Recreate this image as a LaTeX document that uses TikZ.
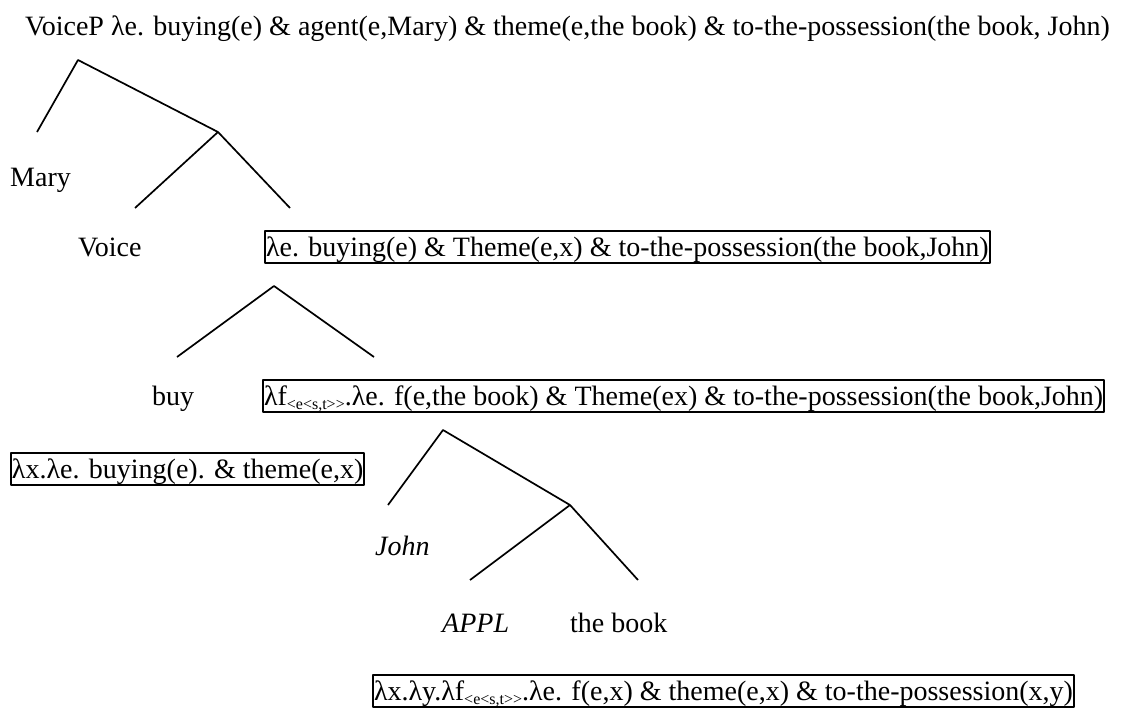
\documentclass[tikz,border=0pt]{standalone}
\usepackage{fontspec}
\setmainfont{Liberation Serif}

% small lowered type subscript
\newcommand\typesub[1]{\raisebox{-4pt}{\fontsize{16}{16}\selectfont #1}}

\begin{document}
\begin{tikzpicture}[
    x=1pt, y=-1pt,
    line join=round,
    % Tree branches and boxed meanings
    branch/.style={line width=1.7pt},
    word/.style={font=\fontsize{28}{32}\selectfont, inner sep=0pt, anchor=base west},
    meaning/.style={draw, line width=2pt, font=\fontsize{28}{32}\selectfont,
        inner xsep=1pt, inner ysep=0pt, text height=25pt, text depth=7pt, anchor=base west}
]

% ---------------------------------------------------------
% 1. FIXED CANVAS (1135 x 709)
% ---------------------------------------------------------
\path [use as bounding box] (0,0) rectangle (1135,709);

% ---------------------------------------------------------
% 2. BRANCH POINTS
% ---------------------------------------------------------
% VoiceP
\coordinate (VP)  at (78, 60);
\coordinate (VPl) at (37, 132);
\coordinate (VPr) at (218, 132);
\coordinate (Vl)  at (135, 208);
\coordinate (Vr)  at (290, 208);

% VP under Voice
\coordinate (BP)  at (274, 286);
\coordinate (BPl) at (177, 357);
\coordinate (BPr) at (374, 357);

% Applicative phrase
\coordinate (AP)  at (443, 430);
\coordinate (APl) at (388, 505);
\coordinate (APr) at (570, 505);
\coordinate (Al)  at (470, 580);
\coordinate (Ar)  at (638, 580);

% Branches
\draw[branch] (VPl) -- (VP) -- (VPr);
\draw[branch] (Vl) -- (VPr) -- (Vr);
\draw[branch] (BPl) -- (BP) -- (BPr);
\draw[branch] (APl) -- (AP) -- (APr);
\draw[branch] (Al) -- (APr) -- (Ar);

% ---------------------------------------------------------
% 3. LABELS
% ---------------------------------------------------------
\node[word] (voicep) at (25, 36)
    {VoiceP λe. buying(e) \& agent(e,Mary) \& theme(e,the book) \& to-the-possession(the book, John)};
\node[word] (mary)  at (10, 186)  {Mary};
\node[word] (voice) at (78, 256)  {Voice};
\node[word] (buy)   at (152, 405) {buy};
\node[word] (john)  at (375, 555) {\itshape John};
\node[word] (appl)  at (442, 632) {\itshape APPL};
\node[word] (book)  at (570, 632) {the book};

% Boxed meanings
\node[meaning] (m1) at (264, 256)
    {λe. buying(e) \& Theme(e,x) \& to-the-possession(the book,John)};
\node[meaning] (m2) at (262, 405)
    {λf\typesub{<e<s,t>{}>}.λe. f(e,the book) \& Theme(ex) \& to-the-possession(the book,John)};
\node[meaning] (m3) at (10, 478)
    {λx.λe. buying(e). \& theme(e,x)};
\node[meaning] (m4) at (372, 700)
    {λx.λy.λf\typesub{<e<s,t>{}>}.λe. f(e,x) \& theme(e,x) \& to-the-possession(x,y)};

\end{tikzpicture}
\end{document}
